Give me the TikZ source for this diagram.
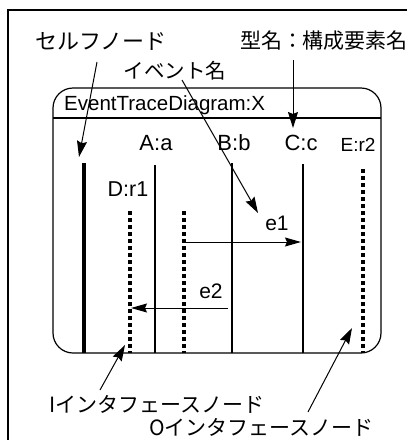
\documentclass[tikz,border=0pt]{standalone}
\usepackage{fontspec}
\setmainfont{Liberation Sans}
\newfontfamily\jp{Noto Sans CJK JP}
\usetikzlibrary{arrows.meta}
\begin{document}
\begin{tikzpicture}[x=1pt,y=-1pt,
  lbl/.style={inner sep=0pt,font=\fontsize{21}{25}\selectfont},
  jlbl/.style={inner sep=0pt,font=\jp\fontsize{21}{25}\selectfont},
  selfline/.style={line width=4.6pt},
  solidline/.style={line width=2.8pt},
  ifline/.style={line width=3.6pt,dash pattern=on 4pt off 3pt},
  msg/.style={line width=1pt,-{Stealth[length=16pt,width=9pt,inset=2pt]}},
  note/.style={line width=1pt,-{Stealth[length=16pt,width=10pt,inset=2pt]}},
  frame/.style={line width=1.2pt}]
\useasboundingbox (0,0) rectangle (407,440);
% outer frame
\draw[frame] (8,440) -- (8,10) -- (407,10);
% diagram box
\draw[frame,rounded corners=20pt] (53,88) rectangle (381,353);
\draw[frame] (53,118) -- (381,118);
\node[lbl,anchor=west,font=\fontsize{20.5}{24}\selectfont] (title) at (64,105) {EventTraceDiagram:X};
% lifeline labels
\node[lbl,font=\fontsize{22}{26}\selectfont] (la) at (156,143) {A:a};
\node[lbl,font=\fontsize{22}{26}\selectfont] (lb) at (234,143) {B:b};
\node[lbl,font=\fontsize{22}{26}\selectfont] (lc) at (301,143) {C:c};
\node[lbl,font=\fontsize{19}{23}\selectfont] (le) at (358,145) {E:r2};
\node[lbl,font=\fontsize{21.5}{25}\selectfont] (ld) at (128,189) {D:r1};
% lifeline coordinates
\coordinate (s1) at (84,163);  \coordinate (s2) at (84,353);
\coordinate (a1) at (155,165); \coordinate (a2) at (155,353);
\coordinate (b1) at (232,163); \coordinate (b2) at (232,353);
\coordinate (c1) at (303,164); \coordinate (c2) at (303,353);
\coordinate (d1) at (130,211); \coordinate (d2) at (130,353);
\coordinate (f1) at (184,211); \coordinate (f2) at (184,353);
\coordinate (e1t) at (363,169); \coordinate (e2b) at (363,353);
\draw[selfline] (s1) -- (s2);
\draw[solidline] (a1) -- (a2);
\draw[solidline] (b1) -- (b2);
\draw[solidline] (c1) -- (c2);
\draw[ifline] (d1) -- (d2);
\draw[ifline] (f1) -- (f2);
\draw[ifline] (e1t) -- (e2b);
% messages
\coordinate (m1s) at (184,242); \coordinate (m1e) at (301,242);
\coordinate (m2s) at (228,308); \coordinate (m2e) at (131,308);
\draw[msg] (m1s) -- (m1e);
\draw[msg] (m2s) -- (m2e);
\node[lbl] (ev1) at (277,223) {e1};
\node[lbl] (ev2) at (211,291) {e2};
% annotations
\node[jlbl,font=\jp\fontsize{22}{26}\selectfont] (nself) at (101,41) {セルフノード};
\node[jlbl] (ntype) at (324,41) {型名：構成要素名};
\node[jlbl,font=\jp\fontsize{20.5}{25}\selectfont] (nevent) at (175,71) {イベント名};
\node[jlbl,anchor=west] (nin) at (49,404) {Iインタフェースノード};
\node[jlbl,anchor=west] (nout) at (149,427) {Oインタフェースノード};
\coordinate (p1s) at (97,62);  \coordinate (p1e) at (79,157);
\coordinate (p2s) at (182,80); \coordinate (p2e) at (258,213);
\coordinate (p3s) at (293,60); \coordinate (p3e) at (293,128);
\coordinate (p4s) at (100,390); \coordinate (p4e) at (125,345);
\coordinate (p5s) at (308,412); \coordinate (p5e) at (352,328);
\draw[note] (p1s) -- (p1e);
\draw[note] (p2s) -- (p2e);
\draw[note] (p3s) -- (p3e);
\draw[note] (p4s) -- (p4e);
\draw[note] (p5s) -- (p5e);
\end{tikzpicture}
\end{document}
